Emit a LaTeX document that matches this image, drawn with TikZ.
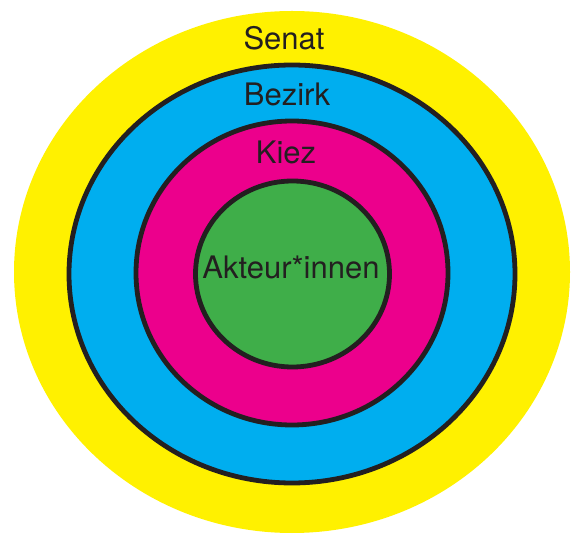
\documentclass[tikz,border=0pt]{standalone}
\usepackage{fontspec}
\setmainfont{TeX Gyre Heros}
\definecolor{cyel}{HTML}{FFF100}
\definecolor{cblue}{HTML}{00AEEF}
\definecolor{cmag}{HTML}{EC008C}
\definecolor{cgreen}{HTML}{3FAE49}
\definecolor{cink}{HTML}{231F20}
\tikzset{
  ring/.style={draw=cink, line width=4.8pt},
  lbl/.style={text=cink, font=\fontsize{31}{37}\selectfont, inner sep=0pt, anchor=base}
}
\begin{document}
\begin{tikzpicture}[x=1pt,y=-1pt]
\useasboundingbox (0,0) rectangle (576,534);
\fill[cyel] (292,272) ellipse [x radius=278, y radius=261];
\filldraw[ring, fill=cblue] (292,274) ellipse [x radius=223, y radius=209];
\filldraw[ring, fill=cmag] (292,273) ellipse [x radius=156, y radius=152];
\filldraw[ring, fill=cgreen] (292.5,274) ellipse [x radius=97, y radius=93];
\node[lbl] (senat) at (284,50) {Senat};
\node[lbl] (bezirk) at (287,106) {Bezirk};
\node[lbl] (kiez) at (286,164) {Kiez};
\node[lbl] (akteur) at (291,279) {Akteur*innen};
\end{tikzpicture}
\end{document}
